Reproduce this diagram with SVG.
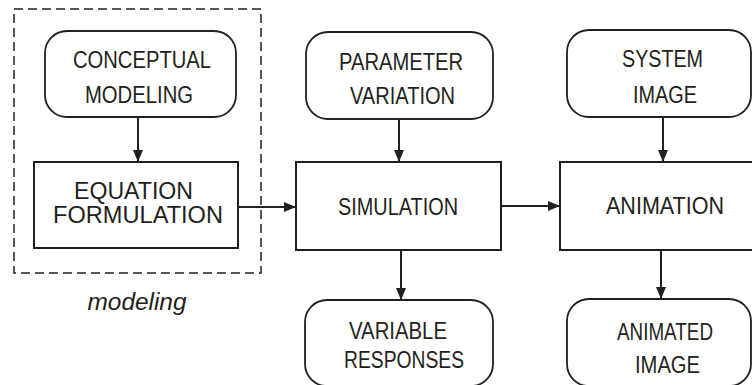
<svg xmlns="http://www.w3.org/2000/svg" width="752" height="385" viewBox="0 0 752 385">
<defs>
<style>
.box{fill:#fff;stroke:#231f20;stroke-width:2}
.rbox{fill:#fff;stroke:#231f20;stroke-width:1.8}
.lbl{font-family:"Liberation Sans",Arial,sans-serif;font-size:23px;fill:#231f20;text-anchor:middle}
.con{stroke:#231f20;stroke-width:2;fill:none}
.dash{fill:none;stroke:#231f20;stroke-width:1.5;stroke-dasharray:9 5}
</style>
<marker id="ah" markerWidth="12" markerHeight="10" refX="12" refY="5" orient="auto" markerUnits="userSpaceOnUse">
<path d="M0,0 L12,5 L0,10 Z" fill="#231f20"/>
</marker>
</defs>
<rect width="752" height="385" fill="#fff"/>
<g id="modeling-group">
<rect class="dash" x="14" y="9" width="247" height="264"/>
<text class="lbl" x="137" y="310" font-style="italic" textLength="99" lengthAdjust="spacingAndGlyphs">modeling</text>
</g>
<g id="conceptual">
<rect class="rbox" x="45" y="31" width="191" height="86" rx="22"/>
<text class="lbl" x="142" y="68" textLength="138" lengthAdjust="spacingAndGlyphs">CONCEPTUAL</text>
<text class="lbl" x="139" y="103" textLength="108" lengthAdjust="spacingAndGlyphs">MODELING</text>
</g>
<g id="equation">
<rect class="box" x="34" y="162" width="204" height="86"/>
<text class="lbl" x="133.5" y="199" textLength="119" lengthAdjust="spacingAndGlyphs">EQUATION</text>
<text class="lbl" x="138" y="223" textLength="170" lengthAdjust="spacingAndGlyphs">FORMULATION</text>
</g>
<g id="parameter">
<rect class="rbox" x="306" y="32" width="187" height="87" rx="22"/>
<text class="lbl" x="401" y="70" textLength="124" lengthAdjust="spacingAndGlyphs">PARAMETER</text>
<text class="lbl" x="402.5" y="104" textLength="105" lengthAdjust="spacingAndGlyphs">VARIATION</text>
</g>
<g id="simulation">
<rect class="box" x="296" y="162" width="205" height="88"/>
<text class="lbl" x="398" y="215" textLength="120" lengthAdjust="spacingAndGlyphs">SIMULATION</text>
</g>
<g id="system">
<rect class="rbox" x="567" y="30" width="184" height="87" rx="22"/>
<text class="lbl" x="662.5" y="67" textLength="81" lengthAdjust="spacingAndGlyphs">SYSTEM</text>
<text class="lbl" x="665" y="103" textLength="64" lengthAdjust="spacingAndGlyphs">IMAGE</text>
</g>
<g id="animation">
<rect class="box" x="560" y="162" width="196" height="88"/>
<text class="lbl" x="665" y="214" textLength="118" lengthAdjust="spacingAndGlyphs">ANIMATION</text>
</g>
<g id="variable">
<rect class="rbox" x="305" y="300" width="188" height="86" rx="22"/>
<text class="lbl" x="398" y="339" textLength="98" lengthAdjust="spacingAndGlyphs">VARIABLE</text>
<text class="lbl" x="404" y="368" textLength="120" lengthAdjust="spacingAndGlyphs">RESPONSES</text>
</g>
<g id="animated">
<rect class="rbox" x="567" y="299" width="184" height="87" rx="22"/>
<text class="lbl" x="665" y="340" textLength="96" lengthAdjust="spacingAndGlyphs">ANIMATED</text>
<text class="lbl" x="667.5" y="373" textLength="65" lengthAdjust="spacingAndGlyphs">IMAGE</text>
</g>
<g id="connectors">
<line class="con" x1="138" y1="117" x2="138" y2="162" marker-end="url(#ah)"/>
<line class="con" x1="238" y1="207" x2="296" y2="207" marker-end="url(#ah)"/>
<line class="con" x1="399" y1="119" x2="399" y2="162" marker-end="url(#ah)"/>
<line class="con" x1="501" y1="206" x2="560" y2="206" marker-end="url(#ah)"/>
<line class="con" x1="663" y1="117" x2="663" y2="162" marker-end="url(#ah)"/>
<line class="con" x1="401" y1="250" x2="401" y2="300" marker-end="url(#ah)"/>
<line class="con" x1="661" y1="250" x2="661" y2="299" marker-end="url(#ah)"/>
</g>
</svg>
